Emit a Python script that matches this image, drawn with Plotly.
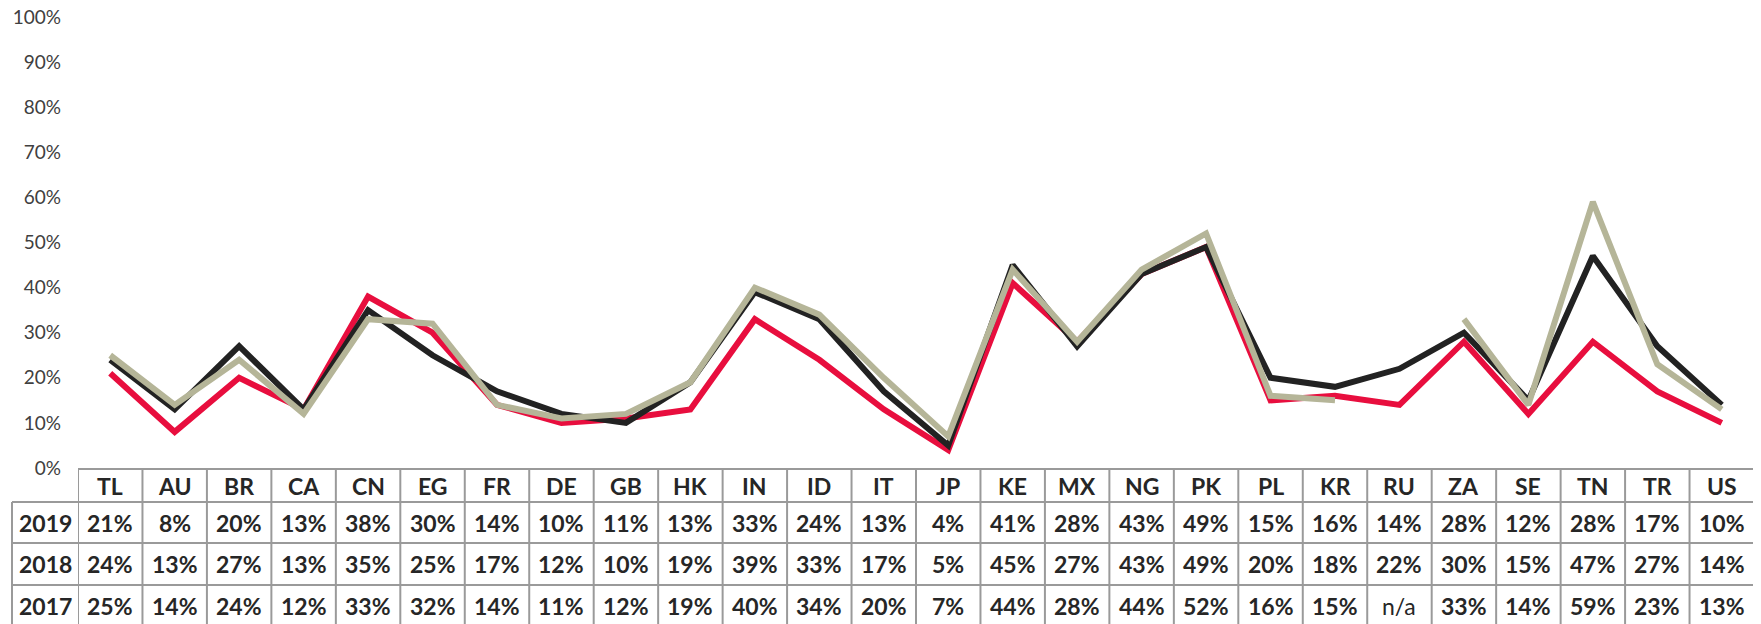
import plotly.graph_objects as go

countries = ["TL", "AU", "BR", "CA", "CN", "EG", "FR", "DE", "GB", "HK", "IN", "ID", "IT",
             "JP", "KE", "MX", "NG", "PK", "PL", "KR", "RU", "ZA", "SE", "TN", "TR", "US"]
years = ["2019", "2018", "2017"]

# percentages per country, None = no data
v2019 = [21, 8, 20, 13, 38, 30, 14, 10, 11, 13, 33, 24, 13, 4, 41, 28, 43, 49, 15, 16, 14, 28, 12, 28, 17, 10]
v2018 = [24, 13, 27, 13, 35, 25, 17, 12, 10, 19, 39, 33, 17, 5, 45, 27, 43, 49, 20, 18, 22, 30, 15, 47, 27, 14]
v2017 = [25, 14, 24, 12, 33, 32, 14, 11, 12, 19, 40, 34, 20, 7, 44, 28, 44, 52, 16, 15, None, 33, 14, 59, 23, 13]

series = {"2019": v2019, "2018": v2018, "2017": v2017}
colors = {"2019": "rgb(232,14,62)", "2018": "rgb(34,34,34)", "2017": "rgb(181,181,152)"}

# the page body keeps its default 8px margin, so the figure starts at (8, 8)
OFF = 8
W, H = 1761 - OFF, 624 - OFF
L, R, T, B = 78 - OFF, 7, 17 - OFF, 156
plot_w = W - L - R
plot_h = H - T - B
FONT = "Lato"
TXT = "#262626"
GRID = "#9a9a9a"
TSIZE = 23


def py(p):
    # page pixel row -> paper y
    return (H - B - (p - OFF)) / plot_h


def px(p):
    # page pixel column -> paper x
    return (p - OFF - L) / plot_w


fig = go.Figure()
for yr in years:
    fig.add_trace(go.Scatter(
        x=countries,
        y=[v / 100 if v is not None else None for v in series[yr]],
        mode="lines",
        name=yr,
        showlegend=False,
        connectgaps=False,
        line=dict(color=colors[yr], width=6),
    ))

# data table under the chart
header_top, header_bot = 469, 502
row_edges = [502, 543, 585, 627]
grid = dict(color=GRID, width=2)
shapes = []
shapes.append(dict(type="line", xref="paper", yref="paper", x0=0, x1=1,
                   y0=py(header_top), y1=py(header_top), line=grid))
for e in row_edges:
    shapes.append(dict(type="line", xref="paper", yref="paper", x0=px(12), x1=1,
                       y0=py(e), y1=py(e), line=grid))
for i in range(len(countries) + 1):
    shapes.append(dict(type="line", xref="x", yref="paper", x0=i - 0.5, x1=i - 0.5,
                       y0=py(header_top), y1=py(630), line=grid))
shapes.append(dict(type="line", xref="paper", yref="paper", x0=px(12), x1=px(12),
                   y0=py(header_bot), y1=py(630), line=grid))

annotations = []
for c in countries:
    annotations.append(dict(x=c, xref="x", y=py((header_top + header_bot) / 2), yref="paper",
                            text="<b>%s</b>" % c, showarrow=False, xanchor="center", yanchor="middle",
                            font=dict(family=FONT, size=TSIZE, color=TXT)))
for r, yr in enumerate(years):
    yc = py((row_edges[r] + row_edges[r + 1]) / 2)
    annotations.append(dict(x=px(45), xref="paper", y=yc, yref="paper",
                            text="<b>%s</b>" % yr, showarrow=False, xanchor="center", yanchor="middle",
                            font=dict(family=FONT, size=TSIZE, color=TXT)))
    for c, v in zip(countries, series[yr]):
        label = "<b>%d%%</b>" % v if v is not None else "n/a"
        annotations.append(dict(x=c, xref="x", y=yc, yref="paper", text=label, showarrow=False,
                                xanchor="center", yanchor="middle",
                                font=dict(family=FONT, size=TSIZE, color=TXT)))

fig.update_layout(
    width=W, height=H,
    margin=dict(l=L, r=R, t=T, b=B, pad=0),
    paper_bgcolor="white", plot_bgcolor="white",
    font=dict(family=FONT, color="#404040"),
    shapes=shapes,
    annotations=annotations,
    xaxis=dict(type="category", range=[-0.5, len(countries) - 0.5], showticklabels=False,
               showgrid=False, zeroline=False, showline=False, ticks="", automargin=False),
    yaxis=dict(range=[0, 1], dtick=0.1, tickformat=".0%", showgrid=False, zeroline=False,
               showline=False, ticks="", ticklabelstandoff=16, automargin=False,
               ticklabeloverflow="allow",
               tickfont=dict(family=FONT, size=19, color="#404040")),
)

fig.write_html("out.html")
